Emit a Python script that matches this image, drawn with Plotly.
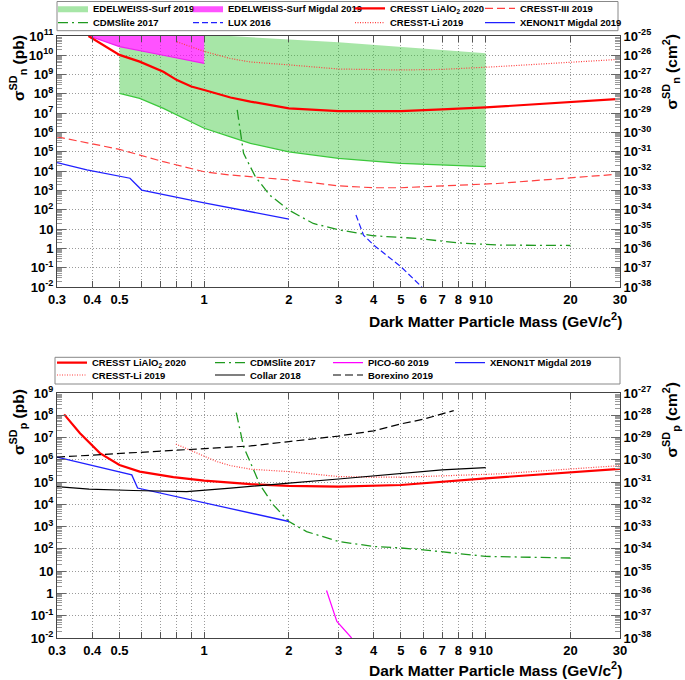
import plotly.graph_objects as go

W, H = 685, 680
FONT = "Liberation Sans"

# ---------------- data: top panel (SD neutron), sigma in pb ----------------
edel_low_m = [0.5, 0.59, 0.716, 1.0, 1.24, 1.46, 2.0, 3.0, 5.0, 10.0]
edel_low_s = [1.07e8, 5.9e7, 1.78e7, 1.66e6, 6.0e5, 2.75e5, 1.0e5, 4.6e4, 2.5e4, 1.7e4]
edel_up_m = [1.0, 1.24, 2.0, 3.0, 5.0, 10.0]
edel_up_s = [1e11, 1e11, 6.6e10, 4.8e10, 2.6e10, 1.26e10]
migdal_m = [0.39, 0.5, 0.7, 1.0]
migdal_s = [1e11, 2.8e10, 1.07e10, 3.8e9]
migdal_top_s = 1e11

lial_n_m = [0.388, 0.5, 0.59, 0.716, 0.8, 0.9, 1.0, 1.24, 1.46, 2.0, 3.0, 5.0, 7.0, 10.0, 30.0]
lial_n_s = [1.0e11, 1.05e10, 4.7e9, 1.4e9, 5.2e8, 2.4e8, 1.6e8, 6.5e7, 4.0e7, 1.8e7, 1.3e7, 1.3e7, 1.6e7, 2.0e7, 5.5e7]
c3_n_m = [0.3, 0.5, 0.716, 1.0, 1.24, 1.46, 2.0, 3.0, 4.0, 5.0, 7.0, 11.0, 30.0]
c3_n_s = [6.0e5, 1.35e5, 3.1e4, 9.3e3, 6.3e3, 5.1e3, 3.5e3, 1.74e3, 1.38e3, 1.38e3, 1.7e3, 2.3e3, 7.1e3]
cli_n_m = [0.8, 1.0, 1.24, 1.46, 2.0, 3.0, 5.0, 7.0, 11.0, 30.0]
cli_n_s = [5.0e10, 1.6e10, 6.8e9, 4.5e9, 3.2e9, 1.95e9, 1.74e9, 1.86e9, 2.6e9, 6.2e9]
xe_n_m = [0.3, 0.383, 0.545, 0.568, 0.6, 1.0, 2.0]
xe_n_s = [2.75e4, 1.15e4, 4.3e3, 2.4e3, 1.05e3, 230, 33]
cdms_n_m = [1.31, 1.38, 1.52, 1.71, 2.0, 2.44, 3.03, 4.0, 5.68, 7.9, 11.2, 20.0]
cdms_n_s = [1.5e7, 8.3e4, 5.1e3, 575, 95, 19.5, 8.9, 4.5, 3.3, 1.95, 1.48, 1.41]
lux_m = [3.46, 3.68, 4.0, 5.0, 5.93]
lux_s = [54, 4.9, 1.48, 0.112, 0.01]

# ---------------- data: bottom panel (SD proton), sigma in pb ----------------
lial_p_m = [0.318, 0.362, 0.426, 0.5, 0.59, 0.777, 1.0, 1.24, 1.46, 2.0, 3.0, 5.0, 7.0, 10.0, 30.0]
lial_p_s = [1.1e8, 1.55e7, 2.0e6, 5.9e5, 2.95e5, 1.66e5, 1.17e5, 9.5e4, 8.1e4, 6.8e4, 6.3e4, 7.4e4, 1.05e5, 1.48e5, 3.9e5]
cli_p_m = [0.793, 0.89, 1.11, 1.24, 1.46, 2.0, 3.0, 4.0, 5.0, 7.0, 11.2, 30.0]
cli_p_s = [5.1e6, 2.75e6, 8.3e5, 5.5e5, 3.8e5, 2.95e5, 1.78e5, 1.66e5, 1.66e5, 1.9e5, 2.35e5, 5.5e5]
collar_m = [0.3, 0.39, 0.56, 0.867, 1.24, 1.46, 2.0, 3.0, 5.0, 7.0, 10.0]
collar_s = [6.3e4, 4.8e4, 4.2e4, 3.7e4, 5.4e4, 6.3e4, 8.9e4, 1.38e5, 2.35e5, 3.55e5, 4.5e5]
borex_m = [0.3, 1.0, 1.24, 1.46, 2.0, 3.0, 4.0, 5.0, 6.0, 7.7]
borex_s = [1.32e6, 3.2e6, 3.55e6, 4.2e6, 6.6e6, 1.17e7, 2.0e7, 4.1e7, 6.6e7, 1.62e8]
xe_p_m = [0.3, 0.553, 0.58, 2.0]
xe_p_s = [1.32e6, 2.1e5, 5.4e4, 1.7e3]
cdms_p_m = [1.30, 1.38, 1.58, 1.76, 2.0, 2.31, 3.0, 4.0, 5.0, 6.0, 10.0, 20.0]
cdms_p_s = [1.32e8, 3.9e6, 7.4e4, 9.5e3, 1.7e3, 600, 214, 129, 110, 91, 46, 39]
pico_m = [2.72, 2.96, 3.34]
pico_s = [1.35, 0.055, 0.01]

# ---------------- axis tick definitions ----------------
x_tickvals = [0.3, 0.4, 0.5, 0.6, 0.7, 0.8, 0.9, 1, 2, 3, 4, 5, 6, 7, 8, 9, 10, 20, 30]
x_ticktext = ["0.3", "0.4", "0.5", "", "", "", "", "1", "2", "3", "4", "5", "6", "7", "8", "9", "10", "20", "30"]
top_left_exp = (-2, 11)
top_right_exp = (-38, -25)
bot_left_exp = (-2, 9)
bot_right_exp = (-38, -27)


def px(x):
    return x / W


def py(y):
    return 1 - y / H


def dec_vals(lo, hi):
    return [10.0 ** k for k in range(lo, hi + 1)]


def dec_text(lo, hi, plain_small=True):
    out = []
    for k in range(lo, hi + 1):
        if plain_small and k == 0:
            out.append("1")
        elif plain_small and k == 1:
            out.append("10")
        else:
            out.append(f"10<sup>{k}</sup>")
    return out


def minor_vals(lo, hi):
    return [j * 10.0 ** k for k in range(lo, hi) for j in range(2, 10)]


tickfont = dict(family=FONT, size=13, color="black", weight="bold")
legfont = dict(family=FONT, size=9.5, color="black", weight="bold")

XD = [px(57), px(620)]
TOPD = [py(287), py(36)]
BOTD = [py(638), py(393)]

fig = go.Figure()

RED = "#ff0000"
LRED = "#ff4040"
BLUE = "#2020ff"
GREEN = "#1f9a1f"


def line(xs, ys, name, color, width, dash, xa, ya, legend, show=True):
    fig.add_trace(go.Scatter(x=xs, y=ys, mode="lines", name=name,
                             line=dict(color=color, width=width, dash=dash),
                             xaxis=xa, yaxis=ya, legend=legend, showlegend=show,
                             hoverinfo="skip"))


# ---- top panel fills ----
gx = edel_low_m + edel_up_m[::-1] + migdal_m[::-1][:-1]
gy = edel_low_s + edel_up_s[::-1] + migdal_s[::-1][:-1]
fig.add_trace(go.Scatter(x=gx, y=gy, mode="lines", fill="toself",
                         fillcolor="rgba(60,200,60,0.45)", line=dict(width=0, color="rgba(60,200,60,0.6)"),
                         name="EDELWEISS-Surf 2019", xaxis="x", yaxis="y", legend="legend",
                         hoverinfo="skip"))
mx = migdal_m + [migdal_m[-1]]
my = migdal_s + [migdal_top_s]
fig.add_trace(go.Scatter(x=mx, y=my, mode="lines", fill="toself",
                         fillcolor="rgba(255,0,255,0.68)", line=dict(width=0, color="#ff00ff"),
                         name="EDELWEISS-Surf Migdal 2019", xaxis="x", yaxis="y", legend="legend2",
                         hoverinfo="skip"))
line(edel_low_m, edel_low_s, "edge", "#3cc83c", 1.2, "solid", "x", "y", "legend", False)
line(migdal_m, migdal_s, "edge2", "#ee22ee", 1.2, "solid", "x", "y", "legend2", False)

# ---- top panel lines ----
line(lial_n_m, lial_n_s, "CRESST LiAlO<sub>2</sub> 2020", RED, 2.2, "solid", "x", "y", "legend3")
line(c3_n_m, c3_n_s, "CRESST-III 2019", LRED, 1.2, "8px,4px", "x", "y", "legend4")
line(cdms_n_m, cdms_n_s, "CDMSlite 2017", GREEN, 1.3, "10px,4px,2px,4px", "x", "y", "legend5")
line(lux_m, lux_s, "LUX 2016", BLUE, 1.2, "6px,3px", "x", "y", "legend6")
line(cli_n_m, cli_n_s, "CRESST-Li 2019", LRED, 1.2, "1px,1.5px", "x", "y", "legend7")
line(xe_n_m, xe_n_s, "XENON1T Migdal 2019", BLUE, 1.3, "solid", "x", "y", "legend8")
fig.add_trace(go.Scatter(x=[], y=[], xaxis="x", yaxis="y3", showlegend=False))

# ---- bottom panel lines ----
line(lial_p_m, lial_p_s, "CRESST LiAlO<sub>2</sub> 2020", RED, 2.2, "solid", "x2", "y2", "legend9")
line(cdms_p_m, cdms_p_s, "CDMSlite 2017", GREEN, 1.3, "10px,4px,2px,4px", "x2", "y2", "legend10")
line(pico_m, pico_s, "PICO-60 2019", "#ff00ff", 1.2, "solid", "x2", "y2", "legend11")
line(xe_p_m, xe_p_s, "XENON1T Migdal 2019", BLUE, 1.3, "solid", "x2", "y2", "legend12")
line(cli_p_m, cli_p_s, "CRESST-Li 2019", LRED, 1.2, "1px,1.5px", "x2", "y2", "legend13")
line(collar_m, collar_s, "Collar 2018", "#000000", 1.2, "solid", "x2", "y2", "legend14")
line(borex_m, borex_s, "Borexino 2019", "#000000", 1.2, "8px,4px", "x2", "y2", "legend15")
fig.add_trace(go.Scatter(x=[], y=[], xaxis="x2", yaxis="y4", showlegend=False))

GRID = dict(showgrid=True, gridcolor="#9a9a9a", griddash="1px,2px", gridwidth=1)

# ---- axes ----
def xaxis(anchor):
    d = dict(domain=XD, anchor=anchor, type="log", range=[-0.5229, 1.4771],
             tickmode="array", tickvals=x_tickvals, ticktext=x_ticktext,
             ticks="inside", ticklen=6, tickcolor="#555", showline=True, linecolor="#444",
             mirror="ticks", zeroline=False, tickfont=tickfont, tickangle=0, automargin=False)
    d.update(GRID)
    return d


def yaxis(dom, anchor, lo, hi, side="left", overlay=None, plain=True):
    d = dict(domain=dom, anchor=anchor, type="log", range=[lo, hi], side=side,
             tickmode="array", tickvals=dec_vals(lo, hi), ticktext=dec_text(lo, hi, plain),
             ticks="inside", ticklen=9, tickcolor="#666", showline=True, linecolor="#444",
             zeroline=False, tickfont=tickfont, automargin=False,
             minor=dict(tickmode="array", tickvals=minor_vals(lo, hi), ticks="inside",
                        ticklen=5, tickcolor="#999", showgrid=False))
    if overlay:
        d["overlaying"] = overlay
        d["showgrid"] = False
    else:
        d.update(GRID)
    return d


legends = {}
top_cols = [93, 228, 390, 520]
top_rows = [8.3, 22.7]
bot_cols = [92, 250, 368, 490]
bot_rows = [362.7, 375.0]
positions = []
for r in top_rows:
    for c in top_cols:
        positions.append((c, r))
for r in bot_rows:
    for c in bot_cols:
        positions.append((c, r))
for i, (c, r) in enumerate(positions[:15]):
    key = "legend" if i == 0 else f"legend{i + 1}"
    legends[key] = dict(x=px(c - 40), xanchor="left", y=py(r), yanchor="middle",
                        bgcolor="rgba(0,0,0,0)", borderwidth=0, font=legfont,
                        itemwidth=30, tracegroupgap=0)

fig.update_layout(
    width=W, height=H, margin=dict(l=0, r=0, t=0, b=0, autoexpand=False),
    paper_bgcolor="white", plot_bgcolor="white",
    xaxis=xaxis("y"), xaxis2=xaxis("y2"),
    yaxis=yaxis(TOPD, "x", *top_left_exp),
    yaxis3=yaxis(TOPD, "x", *top_right_exp, side="right", overlay="y", plain=False),
    yaxis2=yaxis(BOTD, "x2", *bot_left_exp),
    yaxis4=yaxis(BOTD, "x2", *bot_right_exp, side="right", overlay="y2", plain=False),
    showlegend=True,
    **legends,
)

shapes = [
    dict(type="rect", xref="paper", yref="paper", x0=px(57), x1=px(618), y0=py(30.7), y1=py(1.5),
         line=dict(color="#888", width=1)),
    dict(type="rect", xref="paper", yref="paper", x0=px(55), x1=px(620), y0=py(384), y1=py(357.3),
         line=dict(color="#888", width=1)),
]
titlefont = dict(family=FONT, size=15.5, color="black", weight="bold")
annots = [
    dict(text="Dark Matter Particle Mass (GeV/c<sup>2</sup>)", x=px(624), y=py(320), xanchor="right", yanchor="middle"),
    dict(text="Dark Matter Particle Mass (GeV/c<sup>2</sup>)", x=px(624), y=py(669), xanchor="right", yanchor="middle"),
    dict(text="σ<sup>SD</sup><sub>n</sub> (pb)", x=px(5), y=py(33), xanchor="left", yanchor="top", textangle=-90),
    dict(text="σ<sup>SD</sup><sub>p</sub> (pb)", x=px(5), y=py(387), xanchor="left", yanchor="top", textangle=-90),
    dict(text="σ<sup>SD</sup><sub>n</sub> (cm<sup>2</sup>)", x=px(684), y=py(33), xanchor="right", yanchor="top", textangle=-90),
    dict(text="σ<sup>SD</sup><sub>p</sub> (cm<sup>2</sup>)", x=px(684), y=py(381), xanchor="right", yanchor="top", textangle=-90),
]
for a in annots:
    a.update(xref="paper", yref="paper", showarrow=False, font=titlefont)
fig.update_layout(shapes=shapes, annotations=annots)

# remove the browser's default 8 px body margin so the figure sits at the page origin
fig.write_html("out.html", config={"displayModeBar": False},
               post_script="document.body.style.margin='0px';")
